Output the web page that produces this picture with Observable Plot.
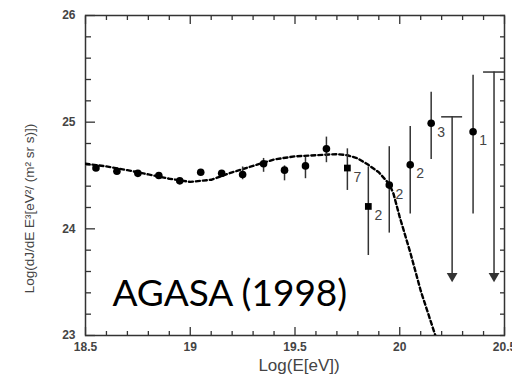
<!DOCTYPE html>
<html>
<head>
<meta charset="utf-8">
<script src="https://cdn.jsdelivr.net/npm/d3@7"></script>
<script src="https://cdn.jsdelivr.net/npm/@observablehq/plot@0.6"></script>
<style>
  html, body { margin: 0; padding: 0; background: #fff; }
  #chart svg { display: block; }
</style>
</head>
<body>
<div id="chart"></div>
<script>
// ---- data ----
const ptX   = [18.55,18.65,18.75,18.85,18.95,19.05,19.15,19.25,19.35,19.45,19.55,19.65,19.75,19.85,19.95,20.05,20.15,20.35];
const ptY   = [24.57,24.54,24.52,24.50,24.45,24.53,24.52,24.51,24.61,24.55,24.59,24.75,24.57,24.21,24.41,24.60,24.99,24.91];
const ptSym = ["circle","circle","circle","circle","circle","circle","circle","circle","circle","circle","circle","circle","square","square","circle","circle","circle","circle"];

const errX  = [19.25,19.35,19.45,19.55,19.65,19.75,19.85,19.95,20.05,20.15,20.35];
const errHi = [24.58,24.66,24.59,24.67,24.86,24.75,24.58,24.77,24.96,25.28,25.44];
const errLo = [24.46,24.53,24.45,24.47,24.62,24.36,23.75,23.96,24.14,24.65,24.14];

const lblX    = [19.75,19.85,19.95,20.05,20.15,20.35];
const lblY    = [24.57,24.21,24.41,24.60,24.99,24.91];
const lblText = ["7","2","2","2","3","1"];

const limX   = [20.25,20.45];
const limTop = [25.05,25.47];
const limTip = [23.52,23.52];
const capHalf = 0.05;

const curveX = [18.5,18.6,18.7,18.8,18.9,19.0,19.1,19.2,19.3,19.4,19.5,19.6,19.7,19.75,19.8,19.85,19.9,19.95,19.97,20.0,20.05,20.1,20.17];
const curveY = [24.61,24.585,24.55,24.51,24.47,24.44,24.46,24.53,24.59,24.65,24.68,24.69,24.70,24.69,24.66,24.60,24.53,24.42,24.33,24.11,23.78,23.42,23.0];

const xMajor = [18.5,19,19.5,20,20.5];
const xMinor = [18.6,18.7,18.8,18.9,19.1,19.2,19.3,19.4,19.6,19.7,19.8,19.9,20.1,20.2,20.3,20.4];
const yMajor = [23,24,25,26];
const yMinor = [23.2,23.4,23.6,23.8,24.2,24.4,24.6,24.8,25.2,25.4,25.6,25.8];

const title = "AGASA (1998)";
const xLabel = "Log(E[eV])";
const yLabel = "Log(dJ/dE E³[eV²/ (m² sr s)])";

// ---- tables ----
const points = ptX.map((x, i) => ({x, y: ptY[i], s: ptSym[i]}));
const errs = errX.map((x, i) => ({x, hi: errHi[i], lo: errLo[i]}));
const labels = lblX.map((x, i) => ({x, y: lblY[i], t: lblText[i]}));
const limits = limX.map((x, i) => ({x, top: limTop[i], tip: limTip[i], x1: x - capHalf, x2: Math.min(20.5, x + capHalf)}));
const curve = curveX.map((x, i) => ({x, y: curveY[i]}));

const ink = "#333";
const none = () => "";

const chart = Plot.plot({
  width: 512,
  height: 375,
  marginLeft: 85,
  marginRight: 8,
  marginTop: 15,
  marginBottom: 40,
  style: {fontFamily: "'Liberation Sans', Arial, Helvetica, sans-serif", background: "#fff", color: ink},
  x: {domain: [18.5, 20.5]},
  y: {domain: [23, 26]},
  marks: [
    // inward ticks
    Plot.axisX(xMajor, {anchor: "bottom", tickSize: 8, dy: -8, tickFormat: none, strokeWidth: 1.3, label: null}),
    Plot.axisX(xMinor, {anchor: "bottom", tickSize: 4, dy: -4, tickFormat: none, strokeWidth: 1.3, label: null}),
    Plot.axisX(xMajor, {anchor: "top", tickSize: 8, dy: 8, tickFormat: none, strokeWidth: 1.3, label: null}),
    Plot.axisX(xMinor, {anchor: "top", tickSize: 4, dy: 4, tickFormat: none, strokeWidth: 1.3, label: null}),
    Plot.axisY(yMajor, {anchor: "left", tickSize: 10, dx: 10, tickFormat: none, strokeWidth: 1.3, label: null}),
    Plot.axisY(yMinor, {anchor: "left", tickSize: 6, dx: 6, tickFormat: none, strokeWidth: 1.3, label: null}),
    Plot.axisY(yMajor, {anchor: "right", tickSize: 5, dx: -5, tickFormat: none, strokeWidth: 1.3, label: null}),
    Plot.axisY(yMinor, {anchor: "right", tickSize: 5, dx: -5, tickFormat: none, strokeWidth: 1.3, label: null}),
    // tick labels
    Plot.axisX(xMajor, {anchor: "bottom", tickSize: 0, tickPadding: 7, fontSize: 12, fontWeight: "bold", fill: "#444",
      tickFormat: d => String(d), label: null}),
    Plot.axisY(yMajor, {anchor: "left", tickSize: 0, tickPadding: 10, fontSize: 12, fontWeight: "bold", fill: "#444",
      tickFormat: d => String(d), label: null}),
    // axis titles
    Plot.text([xLabel], {frameAnchor: "bottom", dx: 4, dy: 30, lineAnchor: "middle", textAnchor: "middle", fontSize: 17, fill: "#444"}),
    Plot.text([yLabel], {frameAnchor: "left", dx: -56, dy: 33, rotate: -90, textAnchor: "middle", lineAnchor: "middle", fontSize: 13.5, fill: "#444"}),
    Plot.frame({stroke: ink, strokeWidth: 1.5}),
    // model curve
    Plot.line(curve, {x: "x", y: "y", stroke: "#000", strokeWidth: 2.4, strokeDasharray: "4,3", clip: true}),
    // error bars
    Plot.ruleX(errs, {x: "x", y1: "lo", y2: "hi", stroke: ink, strokeWidth: 1.5}),
    // upper limits
    Plot.ruleX(limits, {x: "x", y1: "tip", y2: "top", stroke: ink, strokeWidth: 1.5}),
    Plot.ruleY(limits, {y: "top", x1: "x1", x2: "x2", stroke: ink, strokeWidth: 1.5}),
    Plot.dot(limits, {x: "x", y: "tip", symbol: "triangle", rotate: 180, r: 4, fill: ink, dy: -4}),
    // data points
    Plot.dot(points, {x: "x", y: "y", symbol: "s", r: 3.8, fill: "#000"}),
    // multiplicity labels
    Plot.text(labels, {x: "x", y: "y", text: "t", dx: 10, dy: 9, fontSize: 14, fill: "#444"}),
    // annotation
    Plot.text([title], {frameAnchor: "bottom-left", dx: 27, dy: -30, fontSize: 37, fontFamily: "Lato, 'Open Sans', sans-serif", fill: "#000", textAnchor: "start", lineAnchor: "bottom"})
  ]
});
document.getElementById("chart").appendChild(chart);
</script>
</body>
</html>
